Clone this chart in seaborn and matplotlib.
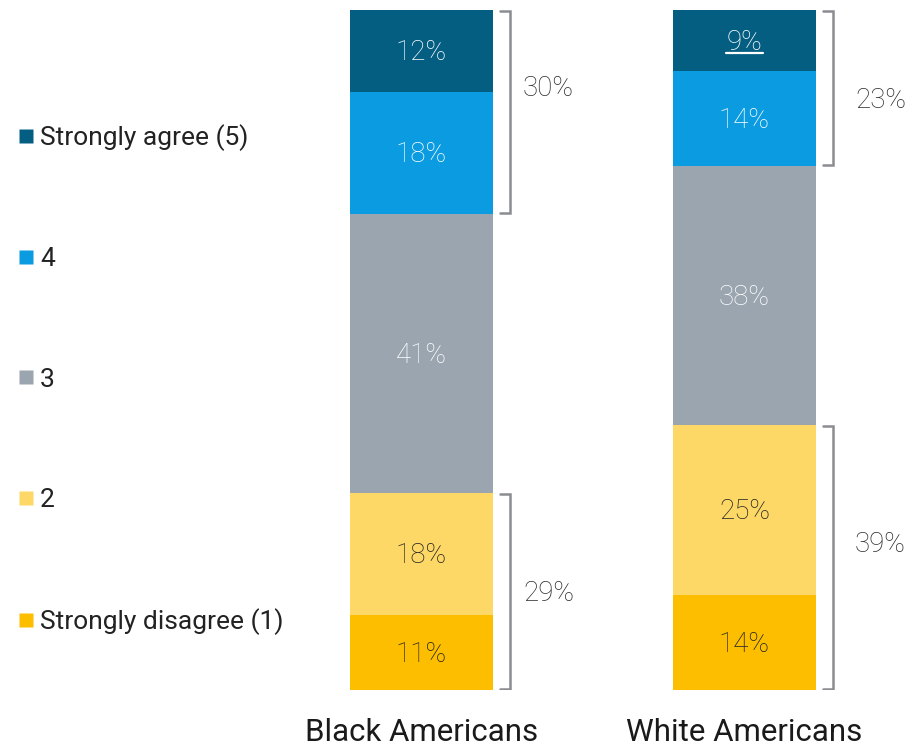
import numpy as np
import pandas as pd
import matplotlib
matplotlib.use("Agg")
import matplotlib.pyplot as plt
import seaborn as sns
from matplotlib.lines import Line2D

# Survey shares (%) per response level, bottom to top of each stack
groups = ["Black Americans", "White Americans"]
levels = ["Strongly disagree (1)", "2", "3", "4", "Strongly agree (5)"]
black_pct = [11, 18, 41, 18, 12]
white_pct = [14, 25, 38, 14, 9]

level_colors = ["#FDBE00", "#FDD866", "#9AA5AF", "#0B9BE0", "#045E82"]
text_colors = ["#222222", "#222222", "white", "white", "white"]

# hand placement of the net labels next to the brackets (pixels: dx from bar edge, dy)
net_label_nudge = {("Black Americans", "low"): (30, -2), ("Black Americans", "high"): (30, 23),
                   ("White Americans", "low"): (39, 13), ("White Americans", "high"): (39, -12)}

sns.set_theme(style="white")
plt.rcParams["font.family"] = ["Roboto", "DejaVu Sans"]

rows = []
for g, vals in zip(groups, [black_pct, white_pct]):
    cum = np.cumsum(vals)
    for i, lev in enumerate(levels):
        rows.append({"group": g, "level": lev, "pct": vals[i],
                     "bottom": cum[i] - vals[i], "top": cum[i]})
df = pd.DataFrame(rows)

fig = plt.figure(figsize=(9.24, 7.45), dpi=100)
ax = fig.add_axes([0, 55 / 745, 1, 680 / 745])

bar_w = 0.443
# overlapping cumulative bars -> stacked look
for i in reversed(range(len(levels))):
    sub = df[df["level"] == levels[i]]
    sns.barplot(data=sub, x="group", y="top", order=groups, color=level_colors[i],
                width=bar_w, saturation=1, ax=ax, edgecolor="none", linewidth=0)

# segment labels
for _, r in df.iterrows():
    xi = groups.index(r["group"])
    li = levels.index(r["level"])
    mid = r["bottom"] + r["pct"] / 2
    ax.text(xi, mid - 0.25, f"{r['pct']}%", ha="center", va="center", fontsize=20,
            color=text_colors[li], fontweight="light")
    if r["group"] == "White Americans" and li == 4:
        ax.plot([xi - 0.058, xi + 0.058], [mid - 1.8, mid - 1.8], color="white", lw=1.6)

# brackets for net disagree (1+2) and net agree (4+5)
bracket_off = [0.022, 0.053]
for xi, (g, vals) in enumerate(zip(groups, [black_pct, white_pct])):
    cum = np.cumsum(vals)
    spans = {"low": (0, cum[1]), "high": (cum[2], cum[4])}
    for key, (lo, hi) in spans.items():
        edge = xi + bar_w / 2
        x0 = edge + bracket_off[0]
        x1 = edge + bracket_off[1]
        ax.plot([x0, x1, x1, x0], [lo + 0.2, lo + 0.2, hi - 0.2, hi - 0.2],
                color="#8A8C91", lw=1.8, solid_joinstyle="miter")
        dx, dy = net_label_nudge[(g, key)]
        ax.annotate(f"{int(round(hi - lo))}%", xy=(edge, (lo + hi) / 2),
                    xytext=(dx, dy), textcoords="offset pixels",
                    ha="left", va="center", fontsize=20, color="#2B2B2B",
                    fontweight="light")

ax.set_xlim(-1.305, 1.556)
ax.set_ylim(0, 100)
ax.set_xlabel("")
ax.set_ylabel("")
ax.set_yticks([])
ax.tick_params(axis="x", length=0, pad=20, labelsize=22.5, labelcolor="#1A1A1A")
for s in ax.spines.values():
    s.set_visible(False)

handles = [Line2D([0], [0], marker="s", linestyle="none", markersize=9.5,
                  markerfacecolor=level_colors[i], markeredgecolor="none")
           for i in reversed(range(len(levels)))]
fig.legend(handles, list(reversed(levels)), loc="upper left",
           bbox_to_anchor=(4 / 924, 1 - 113.5 / 745), frameon=False, fontsize=19,
           labelspacing=3.65, handletextpad=0.06, handlelength=0.9,
           borderaxespad=0, borderpad=0.4, labelcolor="#222222")

fig.savefig("out.png", dpi=100)
